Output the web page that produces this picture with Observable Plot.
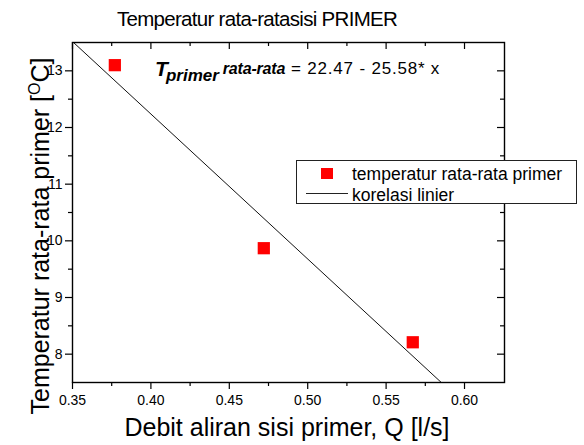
<!DOCTYPE html>
<html><head><meta charset="utf-8">
<script src="https://cdn.jsdelivr.net/npm/d3@7"></script>
<script src="https://cdn.jsdelivr.net/npm/@observablehq/plot@0.6"></script>
<style>
body{margin:0;background:#fff;}
#wrap{position:relative;width:584px;height:445px;font-family:"Liberation Sans",Arial,sans-serif;color:#000;}
#legend{position:absolute;left:296px;top:160px;width:281px;height:44px;border:1px solid #222;background:#fff;box-sizing:border-box;}
#legend .row{position:absolute;left:0;height:20px;font-size:17.5px;line-height:20px;white-space:nowrap;}
#legend .sym{position:absolute;}
#legend .lab{position:absolute;left:55px;top:0;}
</style></head><body><div id="wrap"></div>
<script>
// ---- data ----
const flowQ = [0.377, 0.472, 0.567];          // Debit aliran sisi primer, Q [l/s]
const tempPrimer = [13.10, 9.87, 8.21];       // Temperatur rata-rata primer [°C]
const fitQ = [0.35, 0.5852];                  // korelasi linier endpoints
const fitT = [13.517, 7.5];
const xTicks = [0.35, 0.40, 0.45, 0.50, 0.55, 0.60];
const xMinor = [0.375, 0.425, 0.475, 0.525, 0.575];
const yTicks = [8, 9, 10, 11, 12, 13];
const yMinor = [8.5, 9.5, 10.5, 11.5, 12.5];
const titleText = "Temperatur rata-ratasisi PRIMER";
const xLabel = "Debit aliran sisi primer, Q [l/s]";
const yLabelMain = "Temperatur rata-rata primer [";
const yLabelSup = "O";
const yLabelEnd = "C]";
const legendPoints = "temperatur rata-rata primer";
const legendLine = "korelasi linier";
const eqT = "T", eqSub = "primer", eqMid = "rata-rata", eqRest = "= 22.47 - 25.58* x";
const eqAnchor = [0.403, 12.906];

const W = 584, H = 445, mL = 72, mR = 80, mT = 42, mB = 63;
const innerW = W - mL - mR, innerH = H - mT - mB;
const font = "'Liberation Sans', Arial, sans-serif";
const points = flowQ.map((q, i) => ({q, t: tempPrimer[i]}));
const fit = fitQ.map((q, i) => ({q, t: fitT[i]}));

const plot = Plot.plot({
  width: W, height: H,
  marginLeft: mL, marginRight: mR, marginTop: mT, marginBottom: mB,
  style: {fontFamily: font, fontSize: "14px", color: "#000", background: "#fff", overflow: "visible"},
  x: {domain: [0.35, 0.6255]},
  y: {domain: [7.5, 13.5]},
  marks: [
    Plot.axisX({ticks: xTicks, tickFormat: d3.format(".2f"), tickSize: 7, tickPadding: 6, label: null, fontSize: 14, strokeWidth: 1.2}),
    Plot.axisX({ticks: xMinor, tickFormat: () => "", tickSize: 4, label: null, strokeWidth: 1.2}),
    Plot.axisY({ticks: yTicks, tickFormat: d3.format("d"), tickSize: 7, tickPadding: 3, label: null, fontSize: 14, strokeWidth: 1.2}),
    Plot.axisY({ticks: yMinor, tickFormat: () => "", tickSize: 4, label: null, strokeWidth: 1.2}),
    Plot.tickX(xTicks, {x: d => d, insetBottom: innerH - 7, stroke: "#000", strokeWidth: 1.2}),
    Plot.tickX(xMinor, {x: d => d, insetBottom: innerH - 4, stroke: "#000", strokeWidth: 1.2}),
    Plot.tickY(yTicks, {y: d => d, insetLeft: innerW - 7, stroke: "#000", strokeWidth: 1.2}),
    Plot.tickY(yMinor, {y: d => d, insetLeft: innerW - 4, stroke: "#000", strokeWidth: 1.2}),
    Plot.line(fit, {x: "q", y: "t", stroke: "#111", strokeWidth: 1, clip: true}),
    Plot.dot(points, {x: "q", y: "t", symbol: "square", r: 6.9, fill: "#ff0000", stroke: "none"}),
    Plot.frame({stroke: "#000", strokeWidth: 1.4})
  ]
});

const wrap = document.getElementById("wrap");
wrap.appendChild(plot);
const svg = d3.select(plot);
const sx = plot.scale("x"), sy = plot.scale("y");

// title
svg.append("text").attr("x", 257).attr("y", 26).attr("text-anchor", "middle")
  .attr("font-family", font).attr("font-size", 20.5).attr("letter-spacing", "-0.7px").attr("fill", "#000").text(titleText);
// x label
svg.append("text").attr("x", 287).attr("y", 436).attr("text-anchor", "middle")
  .attr("font-family", font).attr("font-size", 25).attr("fill", "#000").text(xLabel);
// y label
const yl = svg.append("text").attr("transform", "translate(49,236) rotate(-90)").attr("text-anchor", "middle")
  .attr("font-family", font).attr("font-size", 25).attr("fill", "#000");
yl.append("tspan").text(yLabelMain);
yl.append("tspan").attr("font-size", 16).attr("dy", -9).text(yLabelSup);
yl.append("tspan").attr("dy", 9).text(yLabelEnd);

// equation annotation
const eq = svg.append("text").attr("x", sx.apply(eqAnchor[0])).attr("y", sy.apply(eqAnchor[1]))
  .attr("text-anchor", "start").attr("font-family", font).attr("fill", "#000");
eq.append("tspan").attr("font-size", 21).attr("font-weight", "bold").attr("font-style", "italic").text(eqT);
eq.append("tspan").attr("font-size", 17).attr("font-weight", "bold").attr("font-style", "italic").attr("dx", -2).attr("dy", 5).text(eqSub);
eq.append("tspan").attr("font-size", 16).attr("font-weight", "bold").attr("font-style", "italic").attr("dx", 4).attr("dy", -7).attr("letter-spacing", "-0.2px").text(eqMid);
eq.append("tspan").attr("font-size", 17).attr("dx", 6).attr("letter-spacing", "0.8px").text(eqRest);

// legend
const lg = document.createElement("div");
lg.id = "legend";
lg.innerHTML = `<div class="row" style="top:3px;width:100%"><div class="sym" style="left:24px;top:4px;width:12px;height:11px;background:#ff0000"></div><div class="lab"></div></div>
<div class="row" style="top:24px;width:100%"><div class="sym" style="left:9px;top:8px;width:42px;height:1px;background:#222"></div><div class="lab"></div></div>`;
const labs = lg.querySelectorAll(".lab");
labs[0].textContent = legendPoints;
labs[1].textContent = legendLine;
wrap.appendChild(lg);
</script>
</body></html>
